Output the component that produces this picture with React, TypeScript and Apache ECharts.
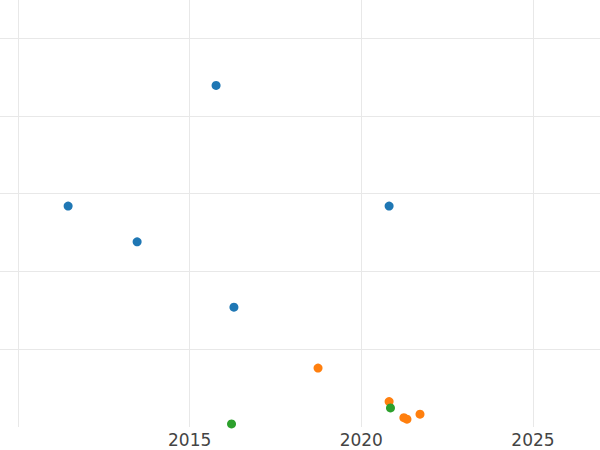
import React, { useEffect, useRef } from "react";
import * as echarts from "echarts";

const blueX = [2015.77, 2011.46, 2013.47, 2020.81, 2016.29];
const blueY = [4.39, 2.84, 2.38, 2.84, 1.54];
const orangeX = [2018.74, 2020.81, 2021.24, 2021.33, 2021.71];
const orangeY = [0.758, 0.327, 0.12, 0.1, 0.165];
const greenX = [2016.22, 2020.85];
const greenY = [0.04, 0.245];
const tickLabels = ["2015", "2020", "2025"];

const pairs = (xs: number[], ys: number[]) => xs.map((x, i) => [x, ys[i]]);

export default function App() {
  const ref = useRef<HTMLDivElement>(null);
  useEffect(() => {
    if (!ref.current) return;
    const chart = echarts.init(ref.current, null, { renderer: "svg" });
    const gridLine = { show: true, lineStyle: { color: "#e8e8e8", width: 1 }, showMinLine: false, showMaxLine: false };
    chart.setOption({
      animation: false,
      backgroundColor: "#ffffff",
      grid: { left: 0, right: 0, top: 0, bottom: 23, containLabel: false },
      xAxis: {
        type: "value",
        min: 2009.476,
        max: 2026.953,
        minInterval: 5,
        maxInterval: 5,
        axisLine: { show: false },
        axisTick: { show: false },
        splitLine: gridLine,
        axisLabel: {
          showMinLabel: false,
          showMaxLabel: false,
          margin: 4,
          color: "#444444",
          fontSize: 17,
          fontFamily: "DejaVu Sans",
          formatter: (v: number) => (tickLabels.includes(String(v)) ? String(v) : ""),
        },
      },
      yAxis: {
        type: "value",
        min: 0,
        max: 5.488,
        minInterval: 1,
        maxInterval: 1,
        axisLine: { show: false },
        axisTick: { show: false },
        axisLabel: { show: false },
        splitLine: gridLine,
      },
      series: [
        { type: "scatter", data: pairs(blueX, blueY), symbolSize: 9, itemStyle: { color: "#1f77b4", opacity: 1 } },
        { type: "scatter", data: pairs(orangeX, orangeY), symbolSize: 9, itemStyle: { color: "#ff7f0e", opacity: 1 } },
        { type: "scatter", data: pairs(greenX, greenY), symbolSize: 9, itemStyle: { color: "#2ca02c", opacity: 1 } },
      ],
    });
    return () => chart.dispose();
  }, []);
  return <div ref={ref} style={{ position: "absolute", left: 0, top: 0, width: 600, height: 450 }} />;
}
